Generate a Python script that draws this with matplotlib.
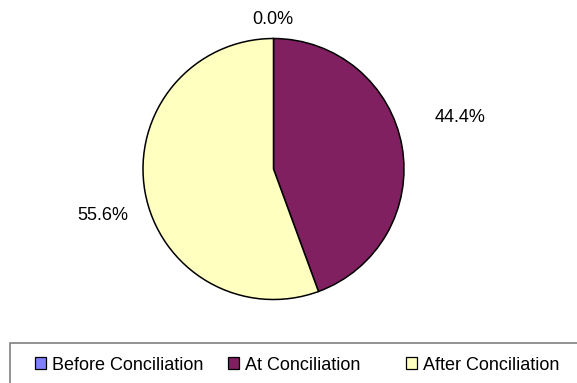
import matplotlib
matplotlib.use('Agg')
import matplotlib.pyplot as plt
from matplotlib.patches import Patch, Rectangle

# ----------------
# DATA
# ----------------

categories = ['Before Conciliation', 'At Conciliation', 'After Conciliation']
shares = [0.0, 44.4, 55.6]
colors = ['#8080FF', '#802060', '#FFFFC0']

# label anchors (pie radius units) and legend x anchors (pixels)
label_pos = [(-0.004, 1.146), (1.433, 0.395), (-1.307, -0.356)]
legend_x = [35, 228, 406]

# ----------------
# PLOT
# ----------------

plt.rcParams['font.family'] = ['Liberation Sans', 'DejaVu Sans']

W, H = 577, 383
fig = plt.figure(figsize=(W / 100, H / 100), dpi=100)

cx, cy, r = 273.5, 169.0, 130.5
ax = fig.add_axes([(cx - r) / W, 1 - (cy + r) / H, 2 * r / W, 2 * r / H])
ax.pie(
    shares,
    colors=colors,
    startangle=90,
    counterclock=False,
    radius=1,
    wedgeprops=dict(edgecolor='black', linewidth=1.1),
)
ax.set_xlim(-1, 1)
ax.set_ylim(-1, 1)
ax.set_aspect('auto')
ax.axis('off')

for v, (x, y) in zip(shares, label_pos):
    ax.text(x, y, f'{v:.1f}%', ha='center', va='center', fontsize=13)

# legend frame runs off the right and bottom edges
fig.patches.append(Rectangle((9.5 / W, -0.2), 1.0, 0.2 + (H - 343) / H,
                             transform=fig.transFigure, facecolor='none',
                             edgecolor='#808080', linewidth=1.2))

for name, c, x in zip(categories, colors, legend_x):
    fig.legend(handles=[Patch(facecolor=c, edgecolor='black', linewidth=0.9)],
               labels=[name], loc='center left',
               bbox_to_anchor=(x / W, 1 - 365 / H), frameon=False,
               fontsize=13, handlelength=0.6, handleheight=0.6,
               handletextpad=0.35, borderpad=0, borderaxespad=0)

fig.savefig('out.png', dpi=100)
